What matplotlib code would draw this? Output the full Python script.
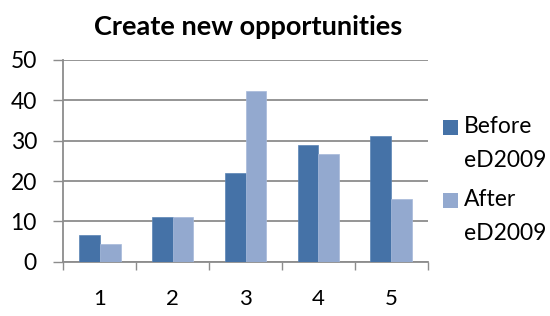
import matplotlib
matplotlib.use("Agg")
import matplotlib.pyplot as plt
from matplotlib.patches import Rectangle
import numpy as np

categories = ["1", "2", "3", "4", "5"]
before = [6.5, 11, 22.1, 29, 31.1]
after = [4.3, 11, 42.3, 26.7, 15.6]
series_names = [["Before", "eD2009"], ["After", "eD2009"]]
title = "Create new opportunities"

plt.rcParams['font.family'] = ['Lato', 'DejaVu Sans']

W, H = 550, 316
fig = plt.figure(figsize=(5.5, 3.16), dpi=100)
ax = fig.add_axes([63.3/W, 1-261.7/H, (427.7-63.3)/W, (261.7-60)/H])

x = np.arange(len(categories))
w = 1/3.5
c1 = "#4572A7"
c2 = "#93A9CF"
ax.bar(x - w/2, before, width=w, color=c1, edgecolor="#5A84B5", linewidth=0.5, zorder=3)
ax.bar(x + w/2, after, width=w, color=c2, edgecolor="#A6B9DA", linewidth=0.5, zorder=3)

ax.set_xlim(-0.5, len(categories) - 0.5)
ax.set_ylim(0, 50)
ax.set_yticks(range(0, 51, 10))
ax.yaxis.grid(True, color="#8C8C8C", linewidth=1.3, zorder=0)
ax.set_axisbelow(True)

ax.set_xticks(np.arange(-0.5, len(categories), 1.0))
ax.set_xticklabels([])
ax.set_xticks(x, minor=True)
ax.set_xticklabels(categories, minor=True)
ax.tick_params(axis='x', which='major', direction='out', length=6, width=1, color="#8C8C8C")
ax.tick_params(axis='x', which='minor', length=0, pad=20, labelsize=16)
ax.tick_params(axis='y', direction='out', length=7, width=1, color="#8C8C8C", labelsize=16.5, pad=12)

for s in ["top", "right"]:
    ax.spines[s].set_visible(False)
for s in ["left", "bottom"]:
    ax.spines[s].set_color("#8C8C8C")
    ax.spines[s].set_linewidth(1.3)

fig.text(248/W, 1-27/H, title, ha="center", va="center", fontsize=19.5, fontweight="bold")

# legend
colors = [c1, c2]
tops = [127, 200]
for (l1, l2), col, yc in zip(series_names, colors, tops):
    fig.patches.append(Rectangle((443/W, 1-(yc+7.5)/H), 15/W, 15/H, transform=fig.transFigure,
                                 facecolor=col, edgecolor="none"))
    fig.text(464/W, 1-yc/H, l1, ha="left", va="center", fontsize=16.5)
    fig.text(464/W, 1-(yc+33.5)/H, l2, ha="left", va="center", fontsize=16.5)

fig.savefig("out.png", dpi=100)
